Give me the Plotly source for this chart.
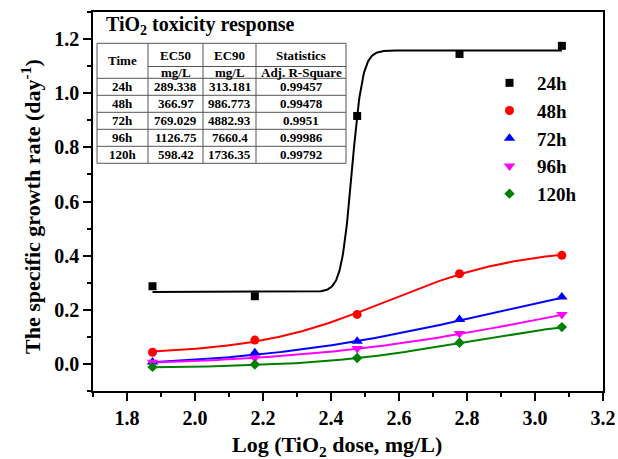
import numpy as np
import plotly.graph_objects as go

# ---------------- data ----------------
log_dose = [1.875, 2.176, 2.477, 2.778, 3.079]
series_names = ["24h", "48h", "72h", "96h", "120h"]
rate_24h = [0.287, 0.250, 0.916, 1.145, 1.175]
rate_48h = [0.043, 0.088, 0.183, 0.333, 0.401]
rate_72h = [0.007, 0.041, 0.084, 0.164, 0.247]
rate_96h = [0.006, 0.022, 0.057, 0.112, 0.183]
rate_120h = [-0.011, -0.002, 0.022, 0.078, 0.136]

# dose-response fit parameters (bottom / top, EC50/EC90 from the table)
fit_bottom = [0.266, 0.035, -0.019, -0.011, -0.0145]
fit_top = [1.158, 0.430, 0.400, 0.360, 0.170]

# inset table
table_title = "TiO<sub>2</sub> toxicity response"
col_header1 = ["Time", "EC50", "EC90", "Statistics"]
col_header2 = ["", "mg/L", "mg/L", "Adj. R-Square"]
table_time = ["24h", "48h", "72h", "96h", "120h"]
ec50 = [289.338, 366.97, 769.029, 1126.75, 598.42]
ec90 = [313.181, 986.773, 4882.93, 7660.4, 1736.35]
adj_r2 = ["0.99457", "0.99478", "0.9951", "0.99986", "0.99792"]

x_title = "Log (TiO<sub>2</sub> dose, mg/L)"
y_title = "The specific growth rate (day<sup>-1</sup>)"

# ---------------- styles ----------------
colors = ["#000000", "#FF0000", "#0000FF", "#FF00FF", "#008000"]
symbols = ["square", "circle", "triangle-up", "triangle-down", "diamond"]
msizes = [8, 9, 10, 10, 8]
FONT = "Liberation Serif"

W, H = 618, 459
ML, MR, MT, MB = 93, 15, 12, 68
PW, PH = W - ML - MR, H - MT - MB


def px(x):
    return (x - ML) / PW


def py(y):
    return (H - MB - y) / PH


fig = go.Figure()
all_rates = [rate_24h, rate_48h, rate_72h, rate_96h, rate_120h]
xs = np.linspace(log_dose[0], log_dose[-1], 600)
for i, name in enumerate(series_names):
    x0 = np.log10(ec50[i])
    p = np.log10(9) / (np.log10(ec90[i]) - x0)
    fit = fit_bottom[i] + (fit_top[i] - fit_bottom[i]) / (1 + 10 ** ((x0 - xs) * p))
    fig.add_trace(go.Scatter(x=xs, y=fit, mode="lines", showlegend=False,
                             line=dict(color=colors[i], width=2), hoverinfo="skip"))
for i, name in enumerate(series_names):
    fig.add_trace(go.Scatter(x=log_dose, y=all_rates[i], mode="markers", name=name,
                             marker=dict(symbol=symbols[i], size=msizes[i], color=colors[i],
                                         line=dict(width=0))))

axis_common = dict(
    showline=True, linecolor="black", linewidth=1.5, mirror=True, automargin=False,
    ticks="outside", ticklen=8, tickwidth=1.5, tickcolor="black",
    showgrid=False, zeroline=False, tickformat=".1f",
    tickfont=dict(family=FONT, size=20, color="black", weight="bold"),
    minor=dict(ticks="outside", ticklen=4, tickwidth=1.5, tickcolor="black", dtick=0.1, showgrid=False),
)

fig.update_layout(
    width=W, height=H,
    margin=dict(l=ML, r=MR, t=MT, b=MB, autoexpand=False),
    paper_bgcolor="white", plot_bgcolor="white",
    showlegend=True,
    legend=dict(x=px(482), y=py(64), xanchor="left", yanchor="top", itemwidth=45,
                font=dict(family=FONT, size=19, color="black", weight="bold"),
                bgcolor="rgba(0,0,0,0)", tracegroupgap=0),
    xaxis=dict(range=[1.7, 3.2], dtick=0.2, tick0=1.8, **axis_common),
    yaxis=dict(range=[-0.1, 1.3], dtick=0.2, tick0=0, **axis_common),
)

# ---------------- inset table ----------------
col_edges = [97, 148, 203, 256, 346]
row_edges = [43.3, 78.3, 95.3, 112.3, 129.3, 146.3, 163.3]
header_split = 66.5
line_style = dict(color="#555555", width=1)
shapes = []
for yv in row_edges:
    shapes.append(dict(type="line", xref="paper", yref="paper",
                       x0=px(col_edges[0]), x1=px(col_edges[-1]), y0=py(yv), y1=py(yv), line=line_style))
shapes.append(dict(type="line", xref="paper", yref="paper",
                   x0=px(col_edges[1]), x1=px(col_edges[-1]), y0=py(header_split), y1=py(header_split),
                   line=line_style))
for xv in col_edges:
    shapes.append(dict(type="line", xref="paper", yref="paper",
                       x0=px(xv), x1=px(xv), y0=py(row_edges[0]), y1=py(row_edges[-1]), line=line_style))

annotations = []
tfont = dict(family=FONT, size=13, color="black", weight="bold")


def cell(text, ci, yc):
    if not text:
        return
    xc = (col_edges[ci] + col_edges[ci + 1]) / 2
    annotations.append(dict(text=text, x=px(xc), y=py(yc), xref="paper", yref="paper",
                            showarrow=False, xanchor="center", yanchor="middle", font=tfont))


cell(col_header1[0], 0, (row_edges[0] + row_edges[1]) / 2)
for ci in range(1, 4):
    cell(col_header1[ci], ci, (row_edges[0] + header_split) / 2 + 1)
    cell(col_header2[ci], ci, (header_split + row_edges[1]) / 2)
for r in range(len(table_time)):
    yc = (row_edges[r + 1] + row_edges[r + 2]) / 2
    cell(table_time[r], 0, yc)
    cell(f"{ec50[r]:g}", 1, yc)
    cell(f"{ec90[r]:g}", 2, yc)
    cell(adj_r2[r], 3, yc)

annotations.append(dict(text="<b>" + table_title + "</b>", x=px(104), y=py(25), xref="paper", yref="paper",
                        showarrow=False, xanchor="left", yanchor="middle",
                        font=dict(family=FONT, size=20, color="black")))

# axis titles
annotations.append(dict(text="<b>" + x_title + "</b>", x=px(337), y=py(446), xref="paper", yref="paper",
                        showarrow=False, xanchor="center", yanchor="middle",
                        font=dict(family=FONT, size=22, color="black")))
annotations.append(dict(text="<b>" + y_title + "</b>", x=px(31), y=py(207), xref="paper", yref="paper",
                        showarrow=False, xanchor="center", yanchor="middle", textangle=-90,
                        font=dict(family=FONT, size=22, color="black")))

fig.update_layout(shapes=shapes, annotations=annotations)
fig.write_html("out.html")
